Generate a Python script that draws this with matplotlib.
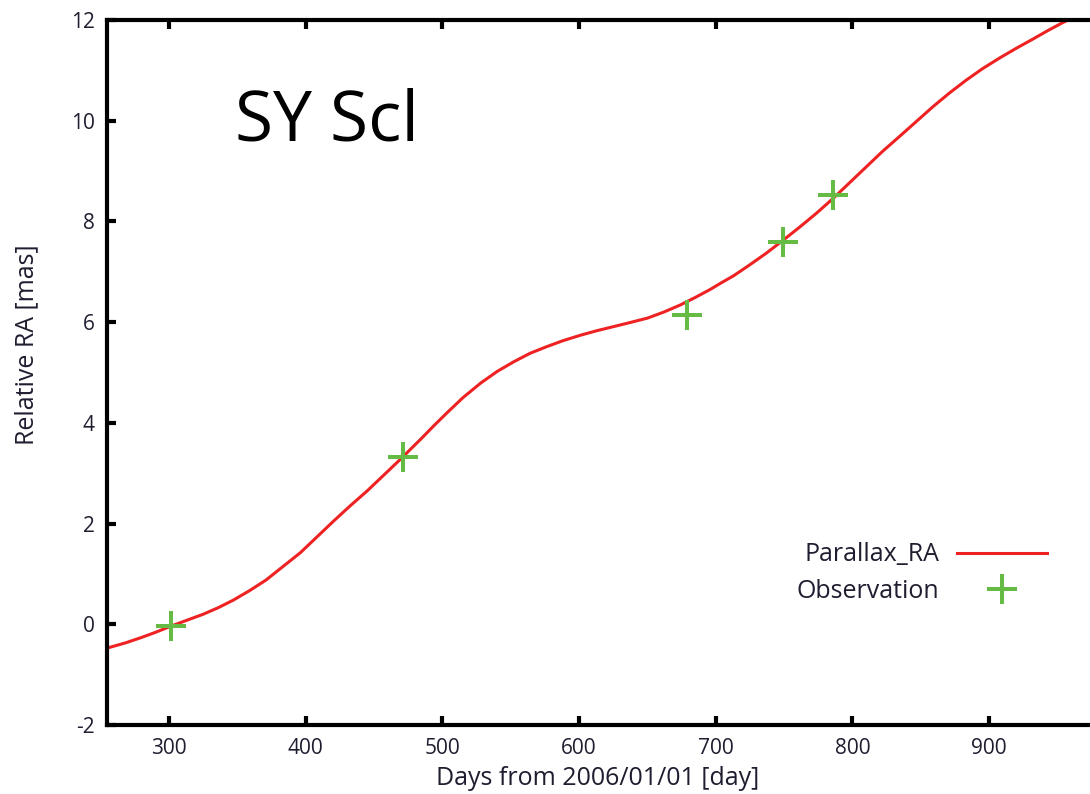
import matplotlib
matplotlib.use("Agg")
import matplotlib.pyplot as plt

# parallax + proper motion model
model_days = [255, 268, 280, 290, 302, 313, 325, 336, 347, 359, 371, 383, 396,
              408, 420, 432, 445, 457, 469, 485, 494, 503, 515, 528, 540, 552,
              564, 576, 588, 601, 613, 625, 637, 650, 662, 674, 685, 696, 704,
              713, 725, 737, 749, 762, 774, 786, 798, 810, 822, 835, 847, 859,
              871, 883, 895, 908, 920, 932, 943, 954, 967, 980]
model_ra = [-0.47, -0.37, -0.26, -0.16, -0.03, 0.08, 0.20, 0.33, 0.48, 0.67,
            0.88, 1.14, 1.42, 1.73, 2.04, 2.34, 2.65, 2.96, 3.27, 3.70, 3.95,
            4.19, 4.50, 4.79, 5.02, 5.21, 5.38, 5.51, 5.63, 5.74, 5.83, 5.91,
            5.99, 6.08, 6.20, 6.34, 6.49, 6.65, 6.78, 6.92, 7.14, 7.37, 7.62,
            7.90, 8.17, 8.46, 8.77, 9.08, 9.39, 9.70, 9.99, 10.28, 10.55, 10.80,
            11.03, 11.25, 11.44, 11.62, 11.79, 11.95, 12.12, 12.27]

# observed epochs
obs_days = [301.5, 471, 679, 749.5, 785.5]
obs_ra = [-0.03, 3.32, 6.14, 7.60, 8.52]

x_ticks = [300, 400, 500, 600, 700, 800, 900]
y_ticks = [-2, 0, 2, 4, 6, 8, 10, 12]

plt.rcParams['font.family'] = ['Open Sans', 'DejaVu Sans']
plt.rcParams['axes.unicode_minus'] = False

fig = plt.figure(figsize=(10.9, 7.94), dpi=100)
ax = fig.add_axes([0.0982, 0.0869, 0.911, 0.8879])

ax.plot(model_days, model_ra, color='#ee2222', lw=2.2, label='Parallax_RA', zorder=2)
ax.plot(obs_days, obs_ra, ls='none', marker='+', ms=21, mew=2.9,
        color='#66bb44', label='Observation', zorder=3)

ax.set_xlim(254.6, 981.2)
ax.set_ylim(-2, 12)
ax.set_xticks(x_ticks)
ax.set_yticks(y_ticks)

for side in ['left', 'bottom', 'top']:
    ax.spines[side].set_linewidth(3)
ax.spines['right'].set_visible(False)
ax.tick_params(direction='in', length=6.5, width=3, top=True, right=False,
               labelsize=15, pad=9, labelcolor='#1e1e30')

ax.set_xlabel('Days from 2006/01/01 [day]', fontsize=18, color='#1e1e30', va='center')
ax.set_ylabel('Relative RA [mas]', fontsize=18, color='#1e1e30', va='center')
ax.xaxis.set_label_coords(0.494, -0.076)
ax.yaxis.set_label_coords(-0.0806, 0.539)

ax.text(348, 9.6, 'SY Scl', fontsize=50, ha='left', va='baseline', color='black')

leg = ax.legend(loc='upper right', bbox_to_anchor=(0.9466, 0.259), frameon=False,
                markerfirst=False, fontsize=18, handlelength=3.6, handletextpad=0.7,
                labelspacing=0.45, borderaxespad=0, borderpad=0)
for t in leg.get_texts():
    t.set_color('#1e1e30')

fig.savefig('out.png', dpi=100)
